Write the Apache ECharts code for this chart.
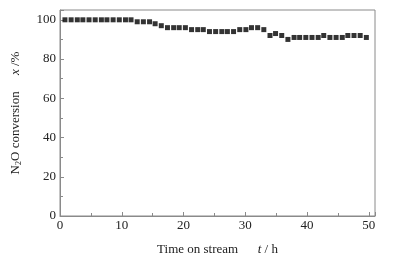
<!DOCTYPE html>
<html>
<head>
<meta charset="utf-8">
<script src="https://cdn.jsdelivr.net/npm/echarts@6/dist/echarts.min.js"></script>
<style>
  html, body { margin: 0; padding: 0; background: #fff; }
  #chart { width: 393px; height: 261px; }
</style>
</head>
<body>
<div id="chart"></div>
<script>
// time on stream (h)
const times = [0.8, 1.8, 2.8, 3.7, 4.7, 5.7, 6.7, 7.6, 8.6, 9.6, 10.6, 11.5, 12.5, 13.5, 14.5, 15.4, 16.4,
  17.4, 18.4, 19.3, 20.3, 21.3, 22.3, 23.2, 24.2, 25.2, 26.2, 27.1, 28.1, 29.1, 30.1, 31.0, 32.0, 33.0,
  34.0, 34.9, 35.9, 36.9, 37.9, 38.8, 39.8, 40.8, 41.8, 42.7, 43.7, 44.7, 45.7, 46.6, 47.6, 48.6, 49.6];
// N2O conversion (%)
const conversion = [100, 100, 100, 100, 100, 100, 100, 100, 100, 100, 100, 100, 99, 99, 99, 98, 97,
  96, 96, 96, 96, 95, 95, 95, 94, 94, 94, 94, 94, 95, 95, 96, 96,
  95, 92, 93, 92, 90, 91, 91, 91, 91, 91, 92, 91, 91, 91, 92, 92, 92, 91];

const serif = '"Liberation Serif", "DejaVu Serif", serif';
const axisGray = '#8a8a8a';

const chart = echarts.init(document.getElementById('chart'));

const option = {
  animation: false,
  grid: {
    left: 60, right: 18, top: 10, bottom: 43,
    show: true, borderColor: axisGray, borderWidth: 1
  },
  xAxis: {
    type: 'value',
    min: 0, max: 51, interval: 10,
    name: 'Time on stream      {it|t} / h',
    nameLocation: 'middle',
    nameGap: 27,
    nameTextStyle: {
      fontFamily: serif, fontSize: 13, color: '#222',
      rich: { it: { fontFamily: serif, fontSize: 13, fontStyle: 'italic', color: '#222' } }
    },
    axisLine: { lineStyle: { color: axisGray } },
    axisTick: { inside: true, length: 4, lineStyle: { color: axisGray } },
    minorTick: { show: true, splitNumber: 2, length: 3, lineStyle: { color: axisGray } },
    axisLabel: { fontFamily: serif, fontSize: 13, color: '#222', margin: 3, showMaxLabel: false },
    splitLine: { show: false }
  },
  yAxis: {
    type: 'value',
    min: 0, max: 105, interval: 20,
    name: 'N{sub|2}O conversion     {it|x} /%',
    nameLocation: 'middle',
    nameGap: 37,
    nameTextStyle: {
      fontFamily: serif, fontSize: 13, color: '#222',
      rich: {
        sub: { fontFamily: serif, fontSize: 8, color: '#222', verticalAlign: 'bottom', padding: [6, 0, 0, 0] },
        it: { fontFamily: serif, fontSize: 13, fontStyle: 'italic', color: '#222' }
      }
    },
    axisLine: { show: true, lineStyle: { color: axisGray } },
    axisTick: { show: true, inside: true, length: 4, lineStyle: { color: axisGray } },
    minorTick: { show: true, splitNumber: 2, length: 3, lineStyle: { color: axisGray } },
    axisLabel: { fontFamily: serif, fontSize: 13, color: '#222', margin: 4, showMaxLabel: false },
    splitLine: { show: false }
  },
  series: [{
    type: 'scatter',
    symbol: 'rect',
    symbolSize: 5,
    itemStyle: { color: '#000' },
    data: times.map((t, i) => [t, conversion[i]])
  }]
};

chart.setOption(option);
</script>
</body>
</html>
